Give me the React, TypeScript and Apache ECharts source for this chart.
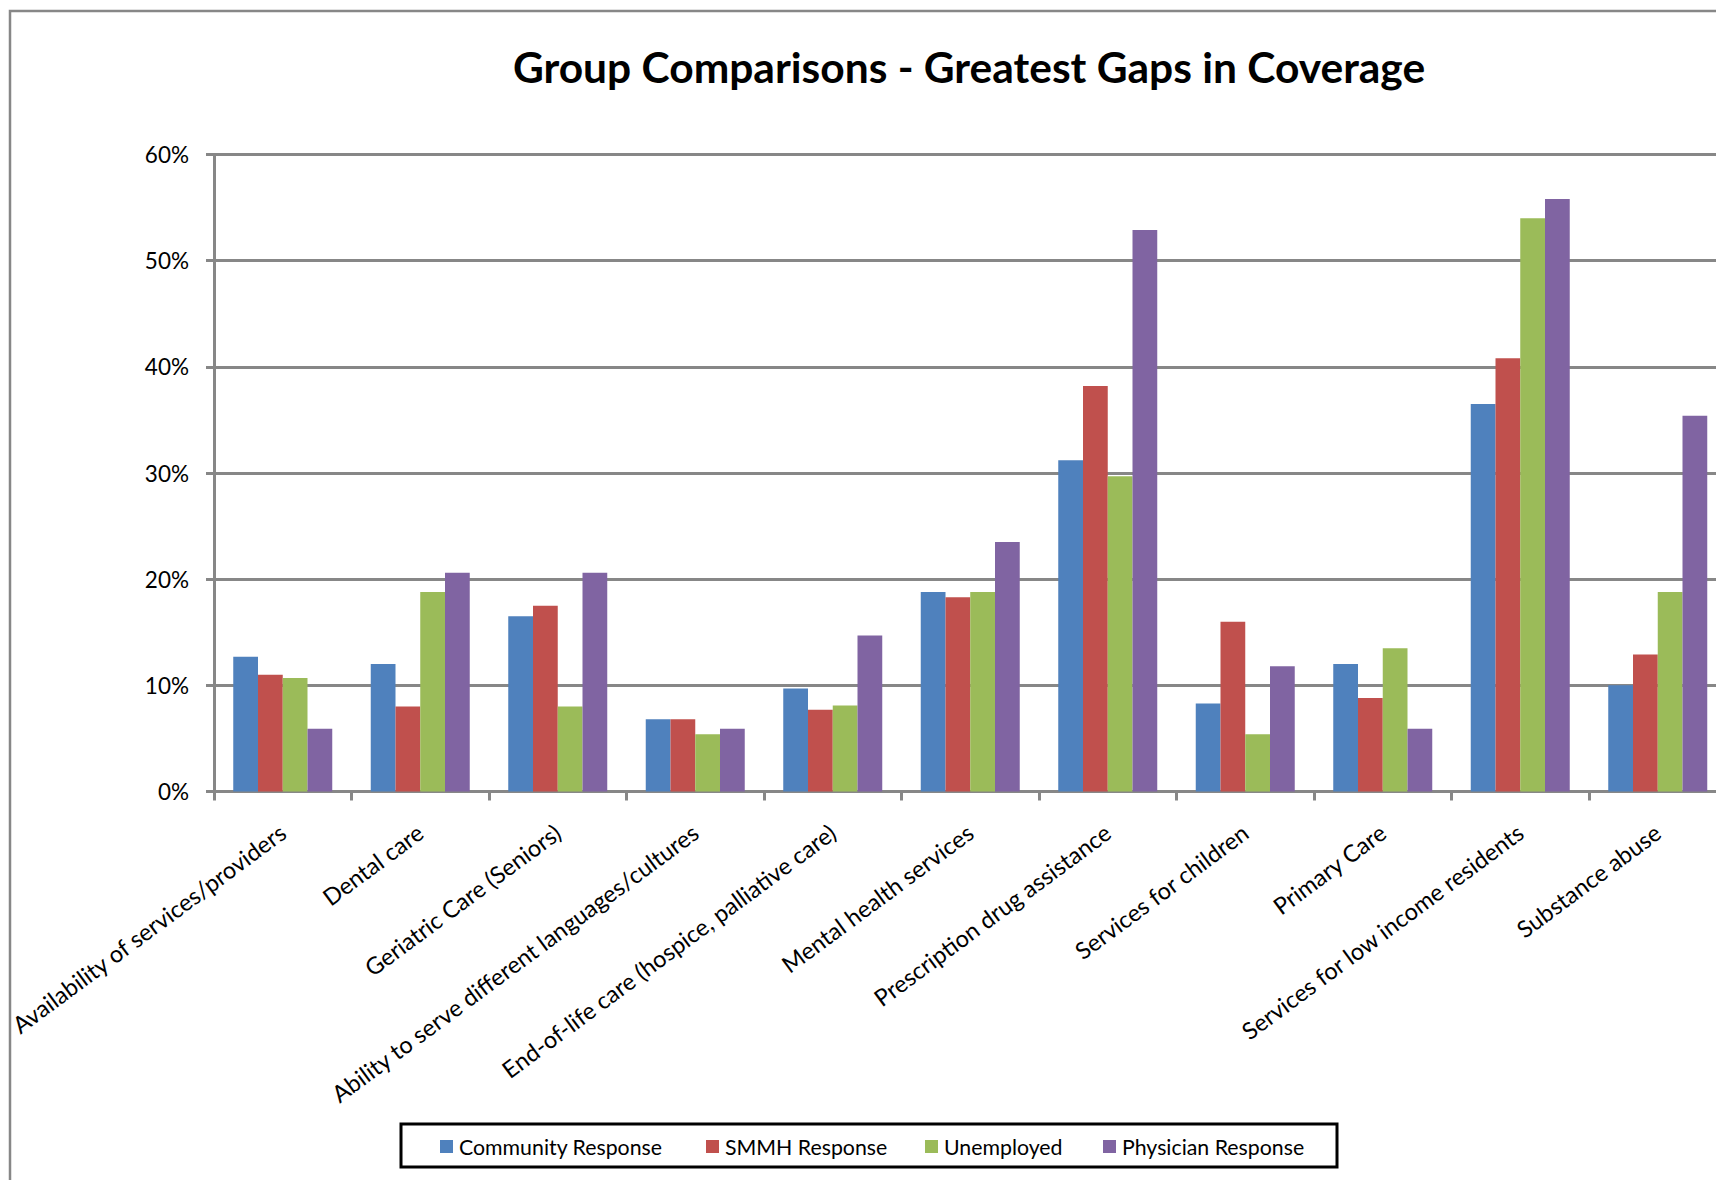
import React, { useEffect, useRef } from "react";
import * as echarts from "echarts";

// Survey categories along the horizontal axis
const categories = [
  "Availability of services/providers",
  "Dental care",
  "Geriatric Care (Seniors)",
  "Ability to serve different languages/cultures",
  "End-of-life care (hospice, palliative care)",
  "Mental health services",
  "Prescription drug assistance",
  "Services for children",
  "Primary Care",
  "Services for low income residents",
  "Substance abuse",
];

// Share of respondents naming each gap (percent)
const communityResponse = [12.7, 12.0, 16.5, 6.8, 9.7, 18.8, 31.2, 8.3, 12.0, 36.5, 10.0];
const smmhResponse = [11.0, 8.0, 17.5, 6.8, 7.7, 18.3, 38.2, 16.0, 8.8, 40.8, 12.9];
const unemployed = [10.7, 18.8, 8.0, 5.4, 8.1, 18.8, 29.7, 5.4, 13.5, 54.0, 18.8];
const physicianResponse = [5.9, 20.6, 20.6, 5.9, 14.7, 23.5, 52.9, 11.8, 5.9, 55.8, 35.4];

const seriesNames = ["Community Response", "SMMH Response", "Unemployed", "Physician Response"];
const seriesColors = ["#4F81BD", "#C0504D", "#9BBB59", "#8064A2"];
const seriesValues = [communityResponse, smmhResponse, unemployed, physicianResponse];

// Y axis range (percent)
const yMin = 0;
const yMax = 60;
const yStep = 10;

const TITLE = "Group Comparisons - Greatest Gaps in Coverage";
const FONT = "Lato, 'Open Sans', sans-serif";
const AXIS_GRAY = "#878787";

// Left edge of each legend entry
const legendLefts = [440, 706, 925, 1103];

export default function App() {
  const ref = useRef<HTMLDivElement>(null);

  useEffect(() => {
    if (!ref.current) return;
    const chart = echarts.init(ref.current, undefined, { renderer: "svg" });

    const option: any = {
      animation: false,
      backgroundColor: "#ffffff",
      textStyle: { fontFamily: FONT },
      grid: {
        left: 214,
        top: 154.5,
        width: 1512.5,
        height: 637,
        containLabel: false,
      },
      legend: seriesNames.map((name, i) => ({
        data: [name],
        left: legendLefts[i],
        top: 1136,
        itemWidth: 13,
        itemHeight: 13,
        itemGap: 0,
        icon: "rect",
        padding: 0,
        selectedMode: false,
        textStyle: { fontFamily: FONT, fontSize: 21.3, color: "#000000", padding: [0, 0, 0, 1] },
      })),
      graphic: [
        {
          type: "rect",
          shape: { x: 10, y: 11, width: 1800, height: 1300 },
          style: { fill: "none", stroke: AXIS_GRAY, lineWidth: 2.5 },
          silent: true,
          z: -1,
        },
        {
          type: "rect",
          shape: { x: 401, y: 1124, width: 936, height: 43 },
          style: { fill: "none", stroke: "#000000", lineWidth: 3 },
          silent: true,
        },
        {
          type: "text",
          x: 969,
          y: 66,
          style: {
            text: TITLE,
            font: `bold 42.5px ${FONT}`,
            fill: "#000000",
            textAlign: "center",
            textVerticalAlign: "middle",
          },
          silent: true,
        },
      ],
      xAxis: {
        type: "category",
        data: categories,
        boundaryGap: true,
        axisLine: { show: true, lineStyle: { color: AXIS_GRAY, width: 3 } },
        axisTick: { show: true, length: 9, lineStyle: { color: AXIS_GRAY, width: 3 } },
        axisLabel: {
          interval: 0,
          rotate: 36.5,
          margin: 38,
          fontFamily: FONT,
          fontSize: 23.5,
          color: "#000000",
        },
        splitLine: { show: false },
      },
      yAxis: {
        type: "value",
        min: yMin,
        max: yMax,
        interval: yStep,
        axisLine: { show: true, lineStyle: { color: AXIS_GRAY, width: 3 } },
        axisTick: { show: true, length: 8, lineStyle: { color: AXIS_GRAY, width: 3 } },
        axisLabel: {
          formatter: "{value}%",
          margin: 25,
          fontFamily: FONT,
          fontSize: 22.5,
          color: "#000000",
        },
        splitLine: { show: true, lineStyle: { color: AXIS_GRAY, width: 3 } },
      },
      series: seriesNames.map((name, i) => ({
        name,
        type: "bar",
        data: seriesValues[i],
        barGap: "0%",
        barCategoryGap: "28%",
        itemStyle: { color: seriesColors[i] },
        z: 3,
      })),
    };

    chart.setOption(option);
    return () => chart.dispose();
  }, []);

  return (
    <div
      style={{
        position: "fixed",
        left: 0,
        top: 0,
        width: 1716,
        height: 1180,
        overflow: "hidden",
        background: "#ffffff",
      }}
    >
      <div ref={ref} style={{ width: 1800, height: 1180 }} />
    </div>
  );
}
